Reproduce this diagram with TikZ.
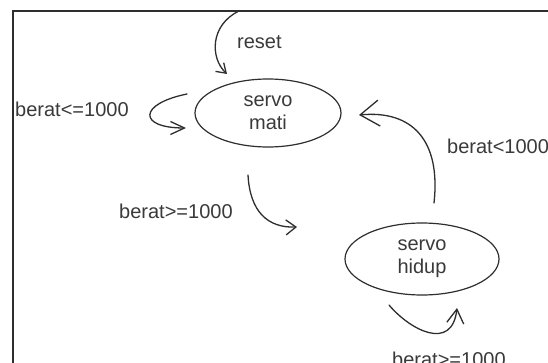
\documentclass[tikz,border=0pt]{standalone}
\usepackage{fontspec}
\setmainfont{Liberation Sans}
\usetikzlibrary{shapes.geometric,arrows.meta}
\definecolor{ink}{HTML}{2E2E2E}
\definecolor{txt}{HTML}{3A3A3A}
\begin{document}
\begin{tikzpicture}[x=1pt,y=-1pt,
  state/.style={ellipse,draw=ink,line width=1.2pt,minimum width=146pt,minimum height=68pt,inner sep=0pt,align=center,text=txt,font=\fontsize{20}{23}\selectfont},
  lbl/.style={text=txt,font=\fontsize{20}{23}\selectfont,inner sep=0pt},
  conn/.style={draw=ink,line width=1.3pt,line cap=round}
]
\useasboundingbox (0,0) rectangle (548,363);
\clip (0,0) rectangle (548,363);
\fill[white] (0,0) rectangle (548,363);
% frame (only top and left visible)
\draw[ink,line width=1.6pt] (13,372) -- (13,11) -- (560,11);

% states
\node[state] (mati) at (268,113) {servo\\mati};
\node[state,minimum width=154pt,minimum height=72pt] (hidup) at (422,259) {servo\\hidup};

% labels
\node[lbl,anchor=west] (lreset) at (237,42) {reset};
\node[lbl,anchor=west] (lle) at (15,109) {berat<=1000};
\node[lbl,anchor=west] (llt) at (447,146) {berat<1000};
\node[lbl,anchor=west] (lge) at (119,211) {berat>=1000};
\node[lbl,anchor=west] (lge2) at (392,359) {berat>=1000};

% connector end points
\coordinate (r0) at (239,11);
\coordinate (r1) at (227,74);
\coordinate (m0) at (187,94);
\coordinate (m1) at (186,128);
\coordinate (t0) at (248,175);
\coordinate (t1) at (297,227);
\coordinate (h0) at (389,305);
\coordinate (h1) at (457,308);
\coordinate (b0) at (434,203);
\coordinate (b1) at (359,115);

% connectors
\draw[conn,-{Straight Barb[length=9pt,width=12pt]}] (r0) .. controls (210,25) and (210,58) .. (r1);
\draw[conn,-{Straight Barb[length=14pt,width=13pt]}] (m0) .. controls (138,104) and (138,128) .. (m1);
\draw[conn,-{Straight Barb[length=10pt,width=15pt]}] (t0) .. controls (250,212) and (268,228) .. (t1);
\draw[conn,-{Straight Barb[length=14pt,width=17pt]}] (h0) .. controls (410,330) and (452,352) .. (h1);
\draw[conn,-{Straight Barb[length=19pt,width=26pt]}] (b0) .. controls (441,140) and (412,110) .. (b1);
\end{tikzpicture}
\end{document}
